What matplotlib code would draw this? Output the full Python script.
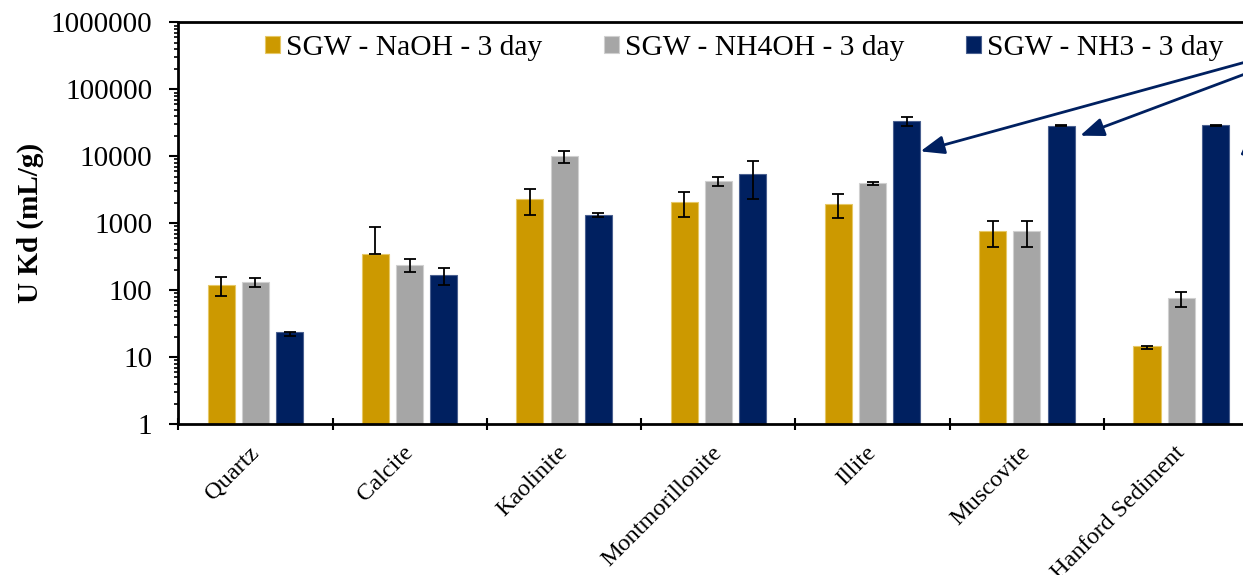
import numpy as np
import matplotlib
matplotlib.use('Agg')
import matplotlib.pyplot as plt
from matplotlib.ticker import LogLocator, FuncFormatter, NullFormatter

plt.rcParams['font.family'] = ['Liberation Serif', 'DejaVu Serif']

categories = ['Quartz', 'Calcite', 'Kaolinite', 'Montmorillonite',
              'Illite', 'Muscovite', 'Hanford Sediment']
series_names = ['SGW - NaOH - 3 day', 'SGW - NH4OH - 3 day', 'SGW - NH3 - 3 day']

naoh = [120, 350, 2280, 2080, 1960, 760, 14.0]
naoh_err = [37, 530, 950, 820, 750, 320, 0.8]
nh4oh = [133, 240, 10100, 4230, 3950, 770, 75]
nh4oh_err = [22, 50, 2000, 650, 200, 320, 19]
nh3 = [22.6, 170, 1330, 5400, 33800, 28800, 29000]
nh3_err = [1.5, 48, 80, 3100, 5400, 500, 500]

colors = ['#CC9900', '#A6A6A6', '#002060']
edges = ['#E6C866', '#D0D0D0', '#4A6090']

# arrows point at the NH3 bars of these categories (callout sits off-chart on the right)
arrow_cats = [4, 5, 6]
arrow_y = [11900, 20400, 9900]
arrow_gap = [0.0, 0.035, 0.07]
arrow_src = (7.18, 7.8e5)

fig = plt.figure(figsize=(12.43, 5.75), dpi=100)
# axes runs past the right edge of the picture, as in the original crop
ax = fig.add_axes([0.1434, 0.2621, 0.869, 0.6988])
ax.set_yscale('log')
ax.set_ylim(1, 1e6)
ax.set_xlim(-0.5, len(categories) - 0.5)

x = np.arange(len(categories))
width = 0.175
offset = 0.222
data = [(naoh, naoh_err), (nh4oh, nh4oh_err), (nh3, nh3_err)]
for k, (vals, err) in enumerate(data):
    vals = np.array(vals, dtype=float)
    err = np.array(err, dtype=float)
    # log axis: drop the lower half of the bar when it would go below zero
    lower = np.where(err >= vals, 0, err)
    xpos = x + (k - 1) * offset
    ax.bar(xpos, vals, width, bottom=1, color=colors[k], edgecolor=edges[k],
           linewidth=0.8, label=series_names[k], zorder=2)
    ax.errorbar(xpos, vals, yerr=[lower, err], fmt='none', ecolor='black',
                elinewidth=1.3, capsize=4.5, capthick=1.3, zorder=3)

for c, yv, g in zip(arrow_cats, arrow_y, arrow_gap):
    tip_x = c + offset + width / 2 + g
    ax.annotate('', xy=(tip_x, yv), xytext=arrow_src, textcoords='data',
                annotation_clip=False,
                arrowprops=dict(arrowstyle='-|>,head_length=0.9,head_width=0.35',
                                color='#002060', lw=2.0, mutation_scale=16,
                                shrinkA=0, shrinkB=0))

# axes styling
for side in ['left', 'bottom', 'top', 'right']:
    ax.spines[side].set_linewidth(2)
ax.yaxis.set_major_locator(LogLocator(base=10, numticks=10))
ax.yaxis.set_minor_locator(LogLocator(base=10, subs=np.arange(2, 10), numticks=10))
ax.yaxis.set_major_formatter(FuncFormatter(lambda v, p: f'{int(round(v))}'))
ax.yaxis.set_minor_formatter(NullFormatter())
ax.tick_params(axis='y', which='major', direction='out', length=6.5, width=1.5,
               labelsize=21, pad=12)
ax.tick_params(axis='y', which='minor', direction='out', length=3, width=1.2)

ax.set_xticks(np.arange(len(categories) + 1) - 0.5)
ax.set_xticklabels([])
ax.tick_params(axis='x', which='major', direction='inout', length=8, width=1.5)
ax.set_xticks(x, minor=True)
ax.set_xticklabels(categories, minor=True, rotation=45, ha='right', va='center',
                   rotation_mode='anchor', fontsize=17.5)
ax.tick_params(axis='x', which='minor', length=0, pad=18)

ax.set_ylabel('U Kd (mL/g)', fontsize=21, fontweight='bold')
ax.yaxis.set_label_coords(-0.124, 0.5)

ax.legend(loc='center', bbox_to_anchor=(0.524, 0.9366), ncol=3, frameon=False,
          fontsize=21.25, handlelength=0.5, handleheight=0.5, handletextpad=0.2,
          columnspacing=2.1, borderpad=0)

fig.savefig('out.png', dpi=100)
